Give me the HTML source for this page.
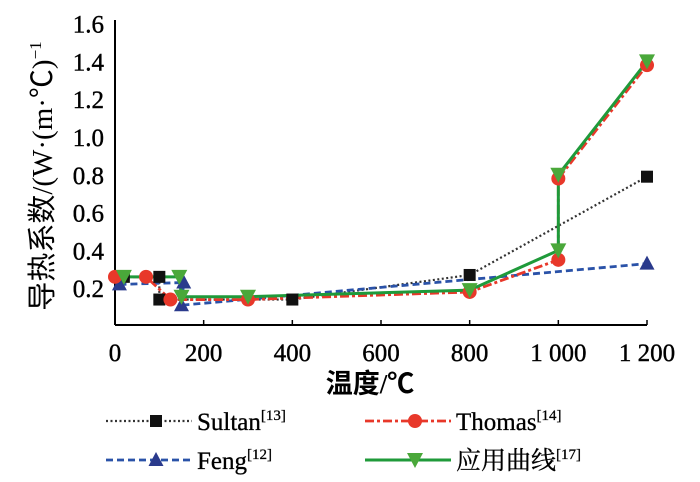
<!DOCTYPE html>
<html><head><meta charset="utf-8"><style>
html,body{margin:0;padding:0;background:#fff;}
svg{display:block;font-family:"Liberation Serif","Noto Serif CJK SC",serif;}
</style></head><body>
<svg id="chart" width="700" height="482" viewBox="0 0 700 482">
<g id="plot"></g>
<text x="0" y="0" transform="translate(52,176) rotate(-90)" text-anchor="middle" font-size="29" font-family="'Liberation Serif','Noto Sans CJK SC',serif">导热系数/(W·(m·℃)<tspan font-size="17" dy="-11">−1</tspan></text>
<text x="370" y="393" text-anchor="middle" font-size="27" font-weight="bold" font-family="'Liberation Serif','Noto Sans CJK SC',serif">温度/℃</text>
<g id="legend"></g>
</svg>
<script>
const yTicks=[0.2,0.4,0.6,0.8,1.0,1.2,1.4,1.6];
const xTicks=[0,200,400,600,800,1000,1200];
const xTickLabels=["0","200","400","600","800","1 000","1 200"];
const sultanX=[20,100,100,400,800,1200];
const sultanY=[0.26,0.26,0.14,0.14,0.27,0.79];
const thomasX=[0,70,125,300,800,1000,1000,1200];
const thomasY=[0.26,0.26,0.14,0.14,0.18,0.35,0.78,1.38];
const fengX=[10,155,150,1200];
const fengY=[0.22,0.23,0.11,0.33];
const appX=[20,145,150,300,800,1000,1000,1200];
const appY=[0.26,0.26,0.155,0.155,0.19,0.40,0.80,1.40];

const NS="http://www.w3.org/2000/svg";
const X0=115,X1=647,Y0=326,YPER=189;
const xs=v=>X0+(v/1200)*(X1-X0);
const ys=v=>Y0-v*YPER;
const plot=document.getElementById('plot');
const legend=document.getElementById('legend');
function mk(tag,attrs,parent){const e=document.createElementNS(NS,tag);for(const k in attrs)e.setAttribute(k,attrs[k]);parent.appendChild(e);return e;}

let ax=mk('line',{x1:X0,y1:20,x2:X0,y2:Y0-1,stroke:'#000','stroke-width':2},plot);


ax=mk('line',{x1:X0,y1:Y0-1,x2:X1,y2:Y0-1,stroke:'#000','stroke-width':2},plot);


yTicks.forEach(v=>{
  const t=mk('text',{x:104,y:ys(v)+9,'text-anchor':'end','font-size':25,'stroke':'#000','stroke-width':0.4},plot);
  t.textContent=v.toFixed(1);
  
  
});
xTicks.forEach((v,i)=>{
  const l=mk('line',{x1:xs(v),y1:Y0-1,x2:xs(v),y2:Y0-6,stroke:'#000','stroke-width':1.5},plot);
  
  
  const t=mk('text',{x:xs(v),y:361,'text-anchor':'middle','font-size':25,'stroke':'#000','stroke-width':0.4},plot);
  t.textContent=xTickLabels[i];
  
  
});

function marker(type,x,y,color,parent,name){
  let e;
  if(type==='sq')e=mk('rect',{x:x-6,y:y-6,width:12,height:12,fill:color},parent);
  else if(type==='ci')e=mk('circle',{cx:x,cy:y,r:7,fill:color},parent);
  else if(type==='up')e=mk('polygon',{points:`${x},${y-8} ${x-7.5},${y+6} ${x+7.5},${y+6}`,fill:color},parent);
  else e=mk('polygon',{points:`${x-8},${y-7} ${x+8},${y-7} ${x},${y+8}`,fill:color},parent);
  
  
}
const series=[
 {n:'sultan',X:sultanX,Y:sultanY,c:'#333',dash:'2,2.5',w:2.2,m:'sq',mc:'#111'},
 {n:'feng',X:fengX,Y:fengY,c:'#2a52a8',dash:'7,4',w:2.8,m:'up',mc:'#2a3a8c'},
 {n:'thomas',X:thomasX,Y:thomasY,c:'#e8382a',dash:'9,3,3,3',w:2.8,m:'ci',mc:'#e8382a'},
 {n:'application-curve',X:appX,Y:appY,c:'#1f9a3a',dash:'',w:3,m:'dn',mc:'#4aa83a'}
];
series.forEach(s=>{
  const pts=s.X.map((x,i)=>xs(x)+','+ys(s.Y[i])).join(' ');
  const p=mk('polyline',{points:pts,fill:'none',stroke:s.c,'stroke-width':s.w,'stroke-dasharray':s.dash},plot);
  
  
});
series.forEach(s=>{
  s.X.forEach((x,i)=>marker(s.m,xs(x),ys(s.Y[i]),s.mc,plot,s.n+'-point'));
});

const leg=[
 {s:series[0],x:106,y:421,label:'Sultan',ref:'[13]'},
 {s:series[2],x:365,y:421,label:'Thomas',ref:'[14]'},
 {s:series[1],x:106,y:460,label:'Feng',ref:'[12]'},
 {s:series[3],x:365,y:460,label:'应用曲线',ref:'[17]'}
];
leg.forEach(l=>{
  const g=mk('g',{},legend);
  
  
  mk('line',{x1:l.x,y1:l.y,x2:l.x+86,y2:l.y,stroke:l.s.c,'stroke-width':l.s.w,'stroke-dasharray':l.s.dash},g);
  marker(l.s.m,l.x+50,l.y,l.s.mc,g,'legend-marker');
  const t=mk('text',{x:l.x+91,y:l.y+9,'font-size':25,'stroke':'#000','stroke-width':0.3,'font-family':"'Liberation Serif','Noto Serif CJK SC',serif"},g);
  t.textContent=l.label;
  const ts=mk('tspan',{'font-size':15,dy:-10},t);
  ts.textContent=l.ref;
});
</script>
</body></html>
